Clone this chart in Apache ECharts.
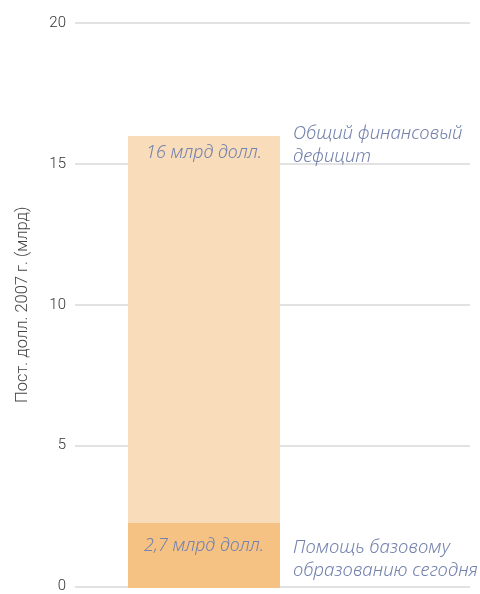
<!DOCTYPE html>
<html><head><meta charset="utf-8">
<script src="https://cdn.jsdelivr.net/npm/echarts@6/dist/echarts.min.js"></script>
<style>html,body{margin:0;padding:0;background:#fff}#c{width:480px;height:594px}</style>
</head><body><div id="c"></div>
<script>
const categories = ['Финансирование'];
const currentAid = [2.3];
const remainingGap = [13.7];
const barLabels = ['2,7 млрд долл.', '16 млрд долл.'];
const sideLabels = ['Помощь базовому\nобразованию сегодня', 'Общий финансовый\nдефицит'];
const yTicks = [0, 5, 10, 15, 20];

const textColor = '#7482ad';
const chart = echarts.init(document.getElementById('c'));
const option = {
  animation: false,
  grid: [
    {left: 75, right: 10, top: 23, bottom: 6},
    {left: 128, width: 152, top: 23, bottom: 6}
  ],
  xAxis: [
    {gridIndex: 0, type: 'category', data: [''], show: false},
    {gridIndex: 1, type: 'category', data: categories, show: false}
  ],
  yAxis: [
    {gridIndex: 0, type: 'value', min: yTicks[0], max: yTicks[yTicks.length-1], interval: 5,
     name: 'Пост. долл. 2007 г. (млрд)', nameLocation: 'middle', nameGap: 44, nameRotate: 90,
     nameTextStyle: {fontFamily: 'Roboto', fontWeight: 300, fontSize: 16.5, color: '#444'},
     axisLine: {show: false}, axisTick: {show: false},
     axisLabel: {fontFamily: 'Roboto', fontWeight: 300, fontSize: 15, color: '#333', margin: 9},
     splitLine: {lineStyle: {color: '#d9d9d9', width: 1.5}}},
    {gridIndex: 1, type: 'value', min: 0, max: 20, show: false, splitLine: {show: false}}
  ],
  series: [
    {type: 'bar', xAxisIndex: 1, yAxisIndex: 1, stack: 's', barWidth: '100%',
     data: currentAid, itemStyle: {color: '#f5c283'}, z: 1,
     label: {show: true, position: 'insideTop', distance: 14, formatter: barLabels[0],
       fontFamily: 'Noto Sans', fontStyle: 'italic', fontWeight: 300, fontSize: 18, color: textColor}},
    {type: 'bar', xAxisIndex: 1, yAxisIndex: 1, stack: 's', barWidth: '100%',
     data: remainingGap, itemStyle: {color: '#f9dcb9'}, z: 1,
     label: {show: true, position: 'insideTop', distance: 8, formatter: barLabels[1],
       fontFamily: 'Noto Sans', fontStyle: 'italic', fontWeight: 300, fontSize: 18, color: textColor}}
  ]
};
chart.setOption(option);

const bottomTop = chart.convertToPixel({xAxisIndex: 1, yAxisIndex: 1}, [0, currentAid[0]]);
const gapTop = chart.convertToPixel({xAxisIndex: 1, yAxisIndex: 1}, [0, currentAid[0] + remainingGap[0]]);
const xRight = 293;
const style = {fontFamily: 'Noto Sans', fontStyle: 'italic', fontWeight: 300, fontSize: 18.6, fill: textColor, lineHeight: 23};
chart.setOption({graphic: [
  {type: 'text', left: xRight, top: gapTop[1] - 14, style: Object.assign({text: sideLabels[1]}, style)},
  {type: 'text', left: xRight, top: bottomTop[1] + 13, style: Object.assign({text: sideLabels[0]}, style)}
]});
</script></body></html>
